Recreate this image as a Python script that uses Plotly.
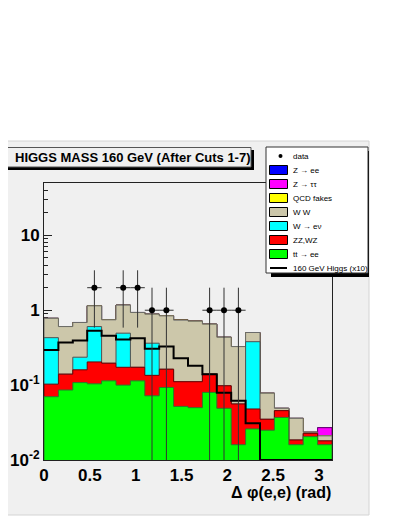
import numpy as np
import plotly.graph_objects as go

# ---------------- data ----------------
n_bins = 20
x_min, x_max = 0.0, np.pi
tt_ee   = [0.070, 0.086, 0.108, 0.104, 0.114, 0.100, 0.114, 0.072, 0.093, 0.052,
           0.050, 0.080, 0.049, 0.016, 0.026, 0.025, 0.037, 0.016, 0.0205, 0.016]
zz_wz   = [0.033, 0.054, 0.052, 0.100, 0.082, 0.073, 0.059, 0.063, 0.070, 0.059,
           0.061, 0.060, 0.049, 0.040, 0.022, 0.010, 0.0086, 0.0025, 0.0022, 0.002]
w_enu   = [0.327, 0.0, 0.076, 0.401, 0.0, 0.321, 0.0, 0.228, 0.0, 0.0,
           0.0, 0.0, 0.0, 0.0, 0.332, 0.0, 0.0, 0.0, 0.0, 0.0]
ww      = [0.350, 0.465, 0.450, 0.541, 0.549, 0.676, 0.760, 0.524, 0.678, 0.627,
           0.603, 0.512, 0.338, 0.271, 0.124, 0.043, 0.0034, 0.0175, 0.0008, 0.003]
qcd     = [0, 0, 0, 0, 0, 0, 0, 0, 0, 0.005, 0.003, 0, 0, 0, 0, 0, 0, 0, 0, 0]
z_tautau = [0, 0, 0, 0, 0, 0, 0, 0, 0, 0, 0, 0, 0, 0, 0, 0, 0, 0, 0, 0.006]
z_ee    = [0] * 20
higgs_x10 = [0.295, 0.37, 0.394, 0.533, 0.455, 0.405, 0.424, 0.307, 0.327, 0.229,
             0.181, 0.140, 0.079, 0.062, 0.031, 0, 0, 0, 0, 0]
data_counts = [0, 0, 0, 2, 0, 2, 2, 1, 1, 0, 0, 1, 1, 1, 0, 0, 0, 0, 0, 0]

x_tickvals = [0, 0.5, 1, 1.5, 2, 2.5, 3]
x_ticktext = ["0", "0.5", "1", "1.5", "2", "2.5", "3"]
y_tickvals = [0.01, 0.1, 1, 10]
y_ticktext = ["10<sup>-2</sup>", "10<sup>-1</sup>", "1", "10"]
y_min, y_max = 0.01, 50.0

title_text = "HIGGS MASS 160 GeV (After Cuts 1-7)"
x_title = "Δ φ(e,e) (rad)"

# stack order bottom -> top
components = [
    ("tt → ee", tt_ee, "#00ff00", "#2b7a2b"),
    ("ZZ,WZ", zz_wz, "#ff0000", "#700000"),
    ("W → eν", w_enu, "#00ffff", "#505050"),
    ("W W", ww, "#ccc7aa", "#6a6a6a"),
    ("QCD fakes", qcd, "#ffff00", "#7a7a00"),
    ("Z → ττ", z_tautau, "#ff00ff", "#700070"),
    ("Z → ee", z_ee, "#0000ff", "#000070"),
]

edges = np.linspace(x_min, x_max, n_bins + 1)
centers = 0.5 * (edges[:-1] + edges[1:])
half_w = 0.5 * (edges[1] - edges[0])
floor = 1e-4

def step_polygon(vals):
    xs, ys = [edges[0]], [floor]
    for i, v in enumerate(vals):
        v = max(v, floor)
        xs += [edges[i], edges[i + 1]]
        ys += [v, v]
    xs.append(edges[-1]); ys.append(floor)
    xs.append(edges[0]); ys.append(floor)
    return xs, ys

fig = go.Figure()

cum = np.zeros(n_bins)
stacks = []
for name, vals, fc, lc in components:
    cum = cum + np.array(vals, dtype=float)
    stacks.append((name, cum.copy(), fc, lc))

for name, c, fc, lc in reversed(stacks):
    xs, ys = step_polygon(c)
    fig.add_trace(go.Scatter(x=xs, y=ys, mode="lines", fill="toself",
                             fillcolor=fc, line=dict(color=lc, width=1),
                             name=name, showlegend=False, hoverinfo="skip"))

# Higgs x10 line
hx, hy = [], []
for i, v in enumerate(higgs_x10):
    v = max(v, y_min)
    hx += [edges[i], edges[i + 1]]
    hy += [v, v]
fig.add_trace(go.Scatter(x=hx, y=hy, mode="lines", line=dict(color="black", width=2),
                         showlegend=False, hoverinfo="skip"))

# data points
dx = [centers[i] for i, n in enumerate(data_counts) if n > 0]
dy = [n for n in data_counts if n > 0]
eup = [np.sqrt(n) for n in dy]
edn = [min(np.sqrt(n), n - y_min) for n in dy]
fig.add_trace(go.Scatter(
    x=dx, y=dy, mode="markers",
    marker=dict(color="black", size=6),
    error_y=dict(type="data", array=eup, arrayminus=edn, color="#333333", thickness=1, width=0),
    error_x=dict(type="constant", value=half_w, color="#333333", thickness=1, width=0),
    showlegend=False, hoverinfo="skip"))

# ---------------- layout helpers (reference pixel coords) ----------------
OFF = 8                      # page body margin of the browser
W, H = 399 - OFF, 516 - OFF
L, R, T, B = 44, 332, 183, 460
def px(x):
    return (x - L) / (R - L)
def py(y):
    return (B - y) / (B - T)

canvas = "#f0f0f0"
shapes = []
shapes.append(dict(type="rect", xref="paper", yref="paper", layer="below",
                   x0=px(0), x1=px(369), y0=py(515), y1=py(141),
                   fillcolor=canvas, line=dict(color="#d4d4d4", width=1)))
# title box + shadow
shapes.append(dict(type="rect", xref="paper", yref="paper", layer="above",
                   x0=px(7), x1=px(254), y0=py(170), y1=py(150),
                   fillcolor="black", line=dict(width=0)))
shapes.append(dict(type="rect", xref="paper", yref="paper", layer="above",
                   x0=px(4), x1=px(251), y0=py(167), y1=py(147.5),
                   fillcolor=canvas, line=dict(color="#555555", width=1)))
# legend box + shadow
shapes.append(dict(type="rect", xref="paper", yref="paper", layer="above",
                   x0=px(271), x1=px(369), y0=py(277), y1=py(151),
                   fillcolor="black", line=dict(width=0)))
shapes.append(dict(type="rect", xref="paper", yref="paper", layer="above",
                   x0=px(266), x1=px(368), y0=py(273), y1=py(147),
                   fillcolor="white", line=dict(color="#333333", width=1)))

annotations = []
annotations.append(dict(text="<b>" + title_text + "</b>", xref="paper", yref="paper",
                        x=px(132.5), y=py(157.5), xanchor="center", yanchor="middle",
                        showarrow=False, font=dict(family="Liberation Sans", size=13, color="black")))
annotations.append(dict(text="<b>" + x_title + "</b>", xref="paper", yref="paper",
                        x=px(333), y=py(492), xanchor="right", yanchor="middle",
                        showarrow=False, font=dict(family="Liberation Sans", size=16, color="black")))

legend_rows = [("data", None, None, "marker")]
for name, c, fc, lc in reversed(stacks):
    legend_rows.append((name, fc, lc, "box"))
legend_rows.append(("160 GeV Higgs (x10)", None, None, "line"))
row_y0, row_dy = 156, 14
for k, (name, fc, lc, kind) in enumerate(legend_rows):
    yc = row_y0 + k * row_dy
    if kind == "box":
        shapes.append(dict(type="rect", xref="paper", yref="paper", layer="above",
                           x0=px(269.5), x1=px(287.5), y0=py(yc + 4.5), y1=py(yc - 4.5),
                           fillcolor=fc, line=dict(color="black", width=1)))
    elif kind == "line":
        shapes.append(dict(type="line", xref="paper", yref="paper", layer="above",
                           x0=px(270), x1=px(287), y0=py(yc), y1=py(yc),
                           line=dict(color="black", width=2)))
    else:
        shapes.append(dict(type="circle", xref="paper", yref="paper", layer="above",
                           x0=px(278.5), x1=px(282.5), y0=py(yc + 2), y1=py(yc - 2),
                           fillcolor="black", line=dict(color="black", width=0)))
    annotations.append(dict(text=name, xref="paper", yref="paper",
                            x=px(291), y=py(yc), xanchor="left", yanchor="middle",
                            showarrow=False, font=dict(family="Liberation Sans", size=8, color="black")))

minor_vals = [m * 10.0 ** d for d in range(-2, 2) for m in range(2, 10) if m * 10.0 ** d < y_max]

fig.update_layout(
    width=W, height=H,
    margin=dict(l=L - OFF, r=W - (R - OFF), t=T - OFF, b=H - (B - OFF), pad=0, autoexpand=False),
    paper_bgcolor="white", plot_bgcolor=canvas,
    shapes=shapes, annotations=annotations,
    showlegend=False,
    xaxis=dict(range=[x_min, x_max], tickvals=x_tickvals, ticktext=x_ticktext,
               ticks="", showgrid=False, zeroline=False, automargin=False,
               showline=True, mirror=True, linecolor="#222222", linewidth=1,
               layer="below traces",
               tickfont=dict(family="Liberation Sans", size=17, color="black", weight="bold")),
    yaxis=dict(type="log", range=[np.log10(y_min), np.log10(y_max)],
               tickvals=y_tickvals, ticktext=y_ticktext,
               ticks="inside", ticklen=8, tickcolor="#222222",
               minor=dict(tickvals=minor_vals, ticks="inside", ticklen=4, tickcolor="#222222", showgrid=False),
               showgrid=False, zeroline=False, automargin=False,
               showline=True, mirror=True, linecolor="#222222", linewidth=1,
               layer="below traces",
               tickfont=dict(family="Liberation Sans", size=17, color="black", weight="bold")),
)

fig.write_html("out.html")
